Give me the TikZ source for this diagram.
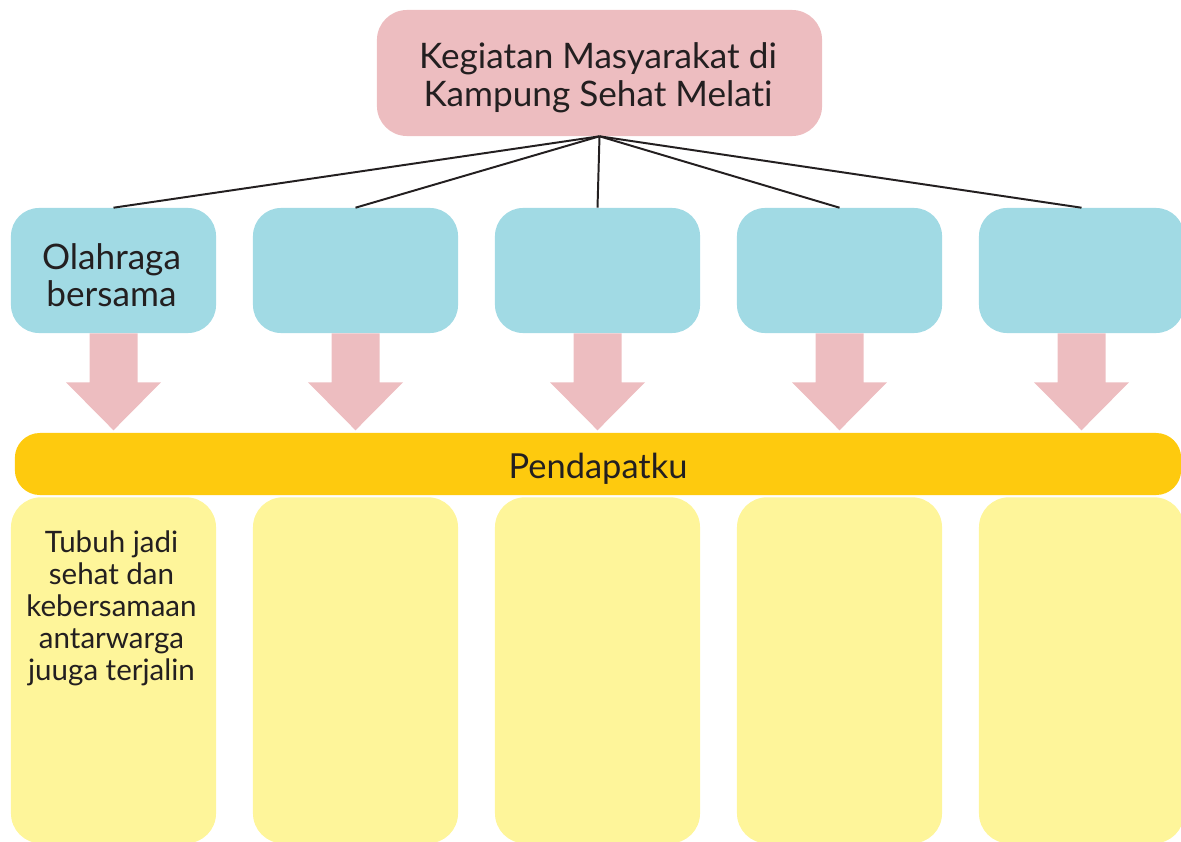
\documentclass[tikz,border=0pt]{standalone}
\usepackage{fontspec}
\setmainfont{Lato}[Ligatures=NoCommon]
\usepackage{xcolor}
\usetikzlibrary{shapes,arrows}

\definecolor{pinkbox}{HTML}{EDBDC0}
\definecolor{bluebox}{HTML}{A1DAE4}
\definecolor{barfill}{HTML}{FECA0E}
\definecolor{notefill}{HTML}{FEF59A}
\definecolor{inktext}{HTML}{231F20}

\begin{document}
\begin{tikzpicture}[x = 0.025cm, y = -0.025cm,
  topbox/.style = {fill = pinkbox, rounded corners = 0.75cm, minimum width = 11.125cm, minimum height = 3.15cm, align = center, text = inktext, font = \fontsize{25}{27}\selectfont},
  actbox/.style = {fill = bluebox, rounded corners = 0.7cm, minimum width = 5.125cm, minimum height = 3.125cm, align = center, text = inktext, font = \fontsize{25}{26.5}\selectfont},
  barbox/.style = {fill = barfill, rounded corners = 0.625cm, minimum width = 29.15cm, minimum height = 1.55cm, text = inktext, font = \fontsize{24.5}{26}\selectfont},
  notebox/.style = {fill = notefill, rounded corners = 0.75cm, minimum width = 5.125cm, minimum height = 8.65cm, align = center, text = inktext},
  notetext/.style = {text = inktext, align = center, font = \fontsize{21}{22.8}\selectfont},
  arrowfill/.style = {fill = pinkbox},
  spoke/.style = {draw = inktext, line width = 1.4pt}]

\useasboundingbox (0,0) rectangle (1181,841);

\node[topbox] (top) at (599.5,73) {};
\node[text = inktext, align = center, font = \fontsize{25}{27}\selectfont] (toptext) at (598,78) {Kegiatan Masyarakat di\\Kampung Sehat Melati};

\node[actbox] (b1) at (113.5,270.5) {};
\node[actbox] (b2) at (355.5,270.5) {};
\node[actbox] (b3) at (597.5,270.5) {};
\node[actbox] (b4) at (839.5,270.5) {};
\node[actbox] (b5) at (1081.5,270.5) {};
\node[text = inktext, align = center, font = \fontsize{25}{26.5}\selectfont] (b1text) at (111.5,275) {Olahraga\\bersama};

\node[barbox] (bar) at (598,464) {};
\node[text = inktext, font = \fontsize{24.5}{26}\selectfont] (bartext) at (598,469) {Pendapatku};

\node[notebox, anchor = north] (n1) at (113.5,497) {};
\node[notebox, anchor = north] (n2) at (355.5,497) {};
\node[notebox, anchor = north] (n3) at (597.5,497) {};
\node[notebox, anchor = north] (n4) at (839.5,497) {};
\node[notebox, anchor = north] (n5) at (1081.5,497) {};

\node[notetext, anchor = north] (t1) at (111.5,526) {Tubuh jadi\\sehat dan\\kebersamaan\\antarwarga\\juuga terjalin};

\foreach \i in {1,...,5} {
  \draw [spoke] (top.south) -- (b\i.north);
  \fill [arrowfill] (b\i.south) ++(-24,0) -- ++(0,49) -- ++(-23.5,0) -- ++(47.5,48) -- ++(47.5,-48) -- ++(-23.5,0) -- ++(0,-49) -- cycle;
}

\end{tikzpicture}
\end{document}
